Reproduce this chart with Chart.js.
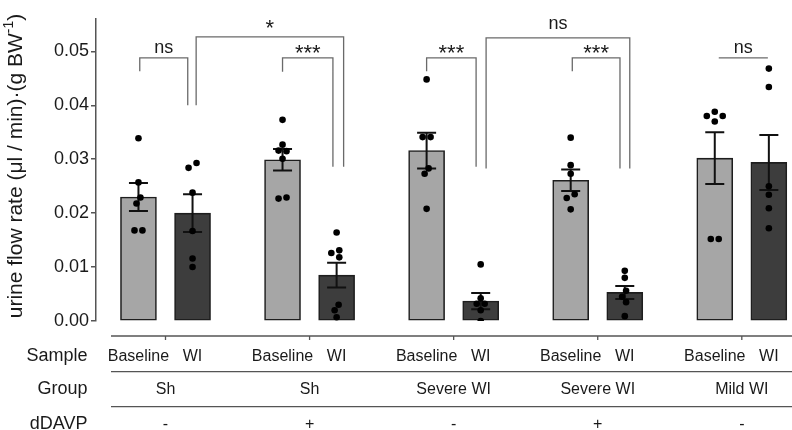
<!DOCTYPE html>
<html>
<head>
<meta charset="utf-8">
<script src="https://cdn.jsdelivr.net/npm/chart.js@4.4.1/dist/chart.umd.min.js"></script>
<style>
  html, body { margin: 0; padding: 0; background: #fff; }
  #wrap { width: 792px; height: 430px; }
</style>
</head>
<body>
<div id="wrap"><canvas id="chart" width="792" height="430"></canvas></div>
<script>
const groups = ['Sh', 'Sh', 'Severe WI', 'Severe WI', 'Mild WI'];
const dDAVP = ['-', '+', '-', '+', '-'];
const samples = ['Baseline', 'WI'];

const baselineMean = [0.0230, 0.0299, 0.0316, 0.0261, 0.0302];
const baselineSem  = [0.0026, 0.0020, 0.0033, 0.0020, 0.0048];
const wiMean       = [0.0200, 0.0085, 0.0037, 0.0053, 0.0294];
const wiSem        = [0.0035, 0.0023, 0.0015, 0.0012, 0.0051];

const baselinePoints = [
    [0.0339, 0.0257, 0.0229, 0.0218, 0.0168, 0.0168],
    [0.0373, 0.0327, 0.0316, 0.0315, 0.0301, 0.0229, 0.0227],
    [0.0448, 0.0341, 0.0341, 0.0283, 0.0273, 0.0208],
    [0.0340, 0.0289, 0.0273, 0.0235, 0.0228, 0.0207],
    [0.0388, 0.0380, 0.0380, 0.0370, 0.0152, 0.0152]
];
const wiPoints = [
    [0.0293, 0.0284, 0.0238, 0.0167, 0.0116, 0.0100],
    [0.0164, 0.0131, 0.0126, 0.0118, 0.0030, 0.0020, 0.0007],
    [0.0105, 0.0042, 0.0032, 0.0032, 0.0020, 0.0000],
    [0.0093, 0.0080, 0.0056, 0.0045, 0.0035, 0.0009],
    [0.0468, 0.0434, 0.0250, 0.0234, 0.0209, 0.0172]
];

const yTicks = [0, 0.01, 0.02, 0.03, 0.04, 0.05];

// significance brackets: [group, sample] ends, bracket height and leg ends (data units)
const brackets = [
    { from: [0, 0], to: [0, 1], top: 0.0488, ends: [0.0463, 0.0400], label: 'ns' },
    { from: [0, 1], to: [1, 1], top: 0.0527, ends: [0.0400, 0.0286], label: '*' },
    { from: [1, 0], to: [1, 1], top: 0.0488, ends: [0.0462, 0.0286], label: '***' },
    { from: [2, 0], to: [2, 1], top: 0.0488, ends: [0.0463, 0.0286], label: '***' },
    { from: [2, 1], to: [3, 1], top: 0.0525, ends: [0.0283, 0.0283], label: 'ns' },
    { from: [3, 0], to: [3, 1], top: 0.0488, ends: [0.0463, 0.0283], label: '***' },
    { from: [4, 0], to: [4, 1], top: 0.0488, ends: [0.0488, 0.0488], label: 'ns' }
];
// small pixel nudges so bracket legs clear each other
const bracketNudge = [[1.3, -4.8], [3.6, 7], [0, -3.7], [0, -4.6], [5.4, 5], [1.6, -4.8], [4, -1]];

const FONT = '"Liberation Sans", Arial, Helvetica, sans-serif';
const INK = '#1a1a1a';
const BAR_OFFSET = 0.1877; // half distance between the two bars of a group, in group units

const barX = (g, s) => g + (s === 0 ? -BAR_OFFSET : BAR_OFFSET);

const errorBars = {
    id: 'errorBars',
    afterDatasetDraw(chart, args) {
        if (args.meta.type !== 'bar') return;
        const s = args.index === 1 ? 0 : 1;
        const means = s === 0 ? baselineMean : wiMean;
        const sems = s === 0 ? baselineSem : wiSem;
        const { x, y } = chart.scales;
        const ctx = chart.ctx;
        ctx.save();
        ctx.strokeStyle = '#111';
        ctx.lineWidth = 2;
        means.forEach((m, g) => {
            const px = x.getPixelForValue(barX(g, s));
            const hi = y.getPixelForValue(m + sems[g]);
            const lo = y.getPixelForValue(m - sems[g]);
            ctx.beginPath();
            ctx.moveTo(px, hi); ctx.lineTo(px, lo);
            ctx.moveTo(px - 9.5, hi); ctx.lineTo(px + 9.5, hi);
            ctx.moveTo(px - 9.5, lo); ctx.lineTo(px + 9.5, lo);
            ctx.stroke();
        });
        ctx.restore();
    }
};

const decorations = {
    id: 'decorations',
    afterDraw(chart) {
        const { ctx, chartArea } = chart;
        const { x, y } = chart.scales;
        ctx.save();

        // brackets
        ctx.strokeStyle = '#6a6a6a';
        ctx.lineWidth = 1.3;
        brackets.forEach((b, i) => {
            const x1 = x.getPixelForValue(barX(b.from[0], b.from[1])) + bracketNudge[i][0];
            const x2 = x.getPixelForValue(barX(b.to[0], b.to[1])) + bracketNudge[i][1];
            const yt = y.getPixelForValue(b.top);
            ctx.beginPath();
            ctx.moveTo(x1, y.getPixelForValue(b.ends[0]));
            ctx.lineTo(x1, yt);
            ctx.lineTo(x2, yt);
            ctx.lineTo(x2, y.getPixelForValue(b.ends[1]));
            ctx.stroke();
            const star = b.label.startsWith('*');
            ctx.fillStyle = INK;
            ctx.textAlign = 'center';
            ctx.textBaseline = 'alphabetic';
            ctx.font = (star ? '22px ' : '18px ') + FONT;
            const gap = b.top > 0.05 ? 9 : 5;
            const m = ctx.measureText(b.label);
            ctx.fillText(b.label, (x1 + x2) / 2, yt - gap - m.actualBoundingBoxDescent);
        });

        // y axis title with superscript
        ctx.fillStyle = INK;
        ctx.translate(21.5, 166);
        ctx.rotate(-Math.PI / 2);
        const main = 'urine flow rate (\u03bcl / min)\u00b7(g BW';
        const sup = '-1';
        const tail = ')';
        ctx.font = '21px ' + FONT;
        const wMain = ctx.measureText(main).width;
        const wTail = ctx.measureText(tail).width;
        ctx.font = '14px ' + FONT;
        const wSup = ctx.measureText(sup).width;
        let cx = -(wMain + wSup + wTail) / 2;
        ctx.textAlign = 'left';
        ctx.textBaseline = 'alphabetic';
        ctx.font = '21px ' + FONT;
        ctx.fillText(main, cx, 0); cx += wMain;
        ctx.font = '14px ' + FONT;
        ctx.fillText(sup, cx, -8.5); cx += wSup;
        ctx.font = '21px ' + FONT;
        ctx.fillText(tail, cx, 0);
        ctx.setTransform(1, 0, 0, 1, 0, 0);

        // table under the plot
        const left = chartArea.left + 15;
        const right = chart.width;
        const lines = [336, 371.7, 406.7];
        ctx.strokeStyle = '#555';
        ctx.lineWidth = 1.3;
        lines.forEach(ly => {
            ctx.beginPath(); ctx.moveTo(left, ly); ctx.lineTo(right, ly); ctx.stroke();
        });
        groups.forEach((_, g) => {
            const px = x.getPixelForValue(g);
            ctx.beginPath(); ctx.moveTo(px, 336); ctx.lineTo(px, 340); ctx.stroke();
        });

        const rows = [361, 393.5, 428.5];
        ctx.fillStyle = INK;
        ctx.textBaseline = 'alphabetic';
        ctx.textAlign = 'right';
        ctx.font = '18px ' + FONT;
        ['Sample', 'Group', 'dDAVP'].forEach((t, r) => ctx.fillText(t, 87.5, rows[r]));

        ctx.textAlign = 'center';
        ctx.font = '16px ' + FONT;
        groups.forEach((grp, g) => {
            samples.forEach((s, k) => ctx.fillText(s, x.getPixelForValue(barX(g, k)), rows[0]));
            ctx.fillText(grp, x.getPixelForValue(g), rows[1]);
            ctx.fillText(dDAVP[g], x.getPixelForValue(g), rows[2]);
        });
        ctx.restore();
    }
};

const barStyle = {
    type: 'bar',
    barThickness: 36,
    grouped: false,
    borderWidth: 1.6,
    borderColor: '#1e1e1e',
    borderSkipped: false
};

const chart = new Chart(document.getElementById('chart'), {
    type: 'bar',
    data: {
        datasets: [
            {
                type: 'scatter',
                order: 0,
                data: [],
                pointRadius: 3.3,
                pointBackgroundColor: '#000',
                pointBorderWidth: 0
            },
            {
                ...barStyle,
                order: 1,
                label: 'Baseline',
                backgroundColor: '#a6a6a6',
                data: baselineMean.map((v, g) => ({ x: barX(g, 0), y: v }))
            },
            {
                ...barStyle,
                order: 2,
                label: 'WI',
                backgroundColor: '#3d3d3d',
                data: wiMean.map((v, g) => ({ x: barX(g, 1), y: v }))
            }
        ]
    },
    options: {
        responsive: false,
        animation: false,
        layout: { padding: { top: 19, bottom: 109, left: 0, right: 0 } },
        plugins: { legend: { display: false }, tooltip: { enabled: false } },
        scales: {
            x: { type: 'linear', min: -0.4824, max: 4.3206, display: false, offset: false },
            y: {
                min: 0,
                max: 0.056,
                afterFit: (s) => { s.width = 96; },
                afterBuildTicks: (s) => { s.ticks = yTicks.map((v) => ({ value: v })); },
                ticks: {
                    callback: (v) => v.toFixed(2),
                    font: { family: FONT, size: 18 },
                    color: INK,
                    padding: 2
                },
                grid: { drawOnChartArea: false, drawTicks: true, tickLength: 5, color: '#555', lineWidth: 1.5 },
                border: { display: true, color: '#555', width: 1.5 }
            }
        }
    },
    plugins: [errorBars, decorations]
});

// spread overlapping dots sideways (simple beeswarm in pixel space)
function layoutDots() {
    const { x, y } = chart.scales;
    const pts = [];
    const tries = [0, -4, 4, -8, 8, -12, 12];
    [baselinePoints, wiPoints].forEach((set, s) => set.forEach((vals, g) => {
        const cx = x.getPixelForValue(barX(g, s));
        const placed = [];
        vals.slice().sort((a, b) => b - a).forEach((v) => {
            const py = y.getPixelForValue(v);
            const dx = tries.find((o) => placed.every((p) => Math.hypot(p.dx - o, p.py - py) >= 6.5)) ?? 0;
            placed.push({ v, py, dx });
        });
        let run = [];
        const flush = () => {
            const m = run.reduce((a, p) => a + p.dx, 0) / run.length;
            run.forEach((p) => { p.dx -= m; });
            run = [];
        };
        placed.forEach((p, k) => {
            if (k && p.py - placed[k - 1].py >= 6.5) flush();
            run.push(p);
        });
        flush();
        placed.forEach((p) => pts.push({ x: x.getValueForPixel(cx + p.dx), y: p.v }));
    }));
    chart.data.datasets[0].data = pts;
    chart.update('none');
}
layoutDots();
</script>
</body>
</html>
